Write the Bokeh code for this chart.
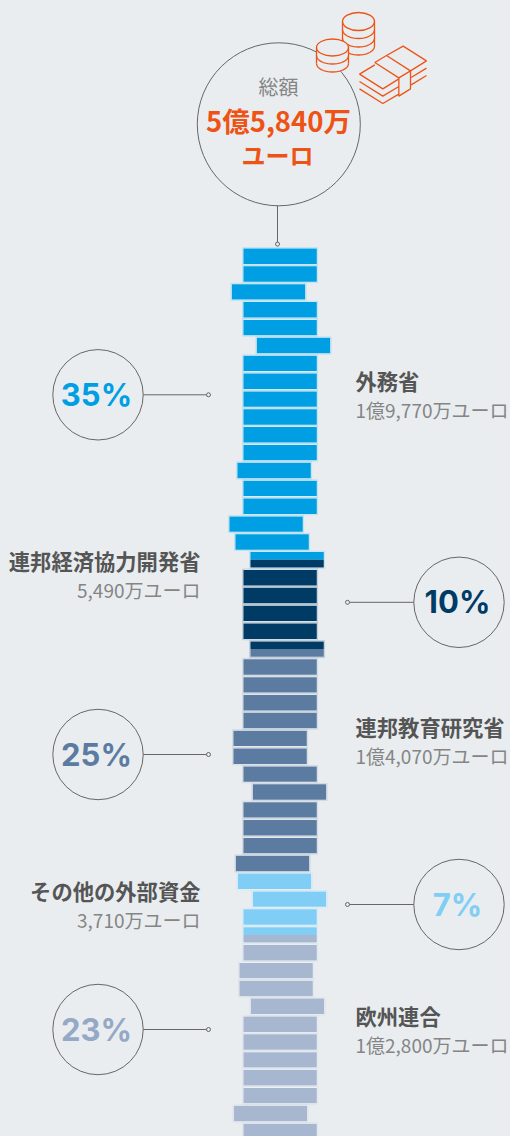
import numpy as np
from bokeh.embed import file_html
from bokeh.resources import INLINE
from bokeh.plotting import figure
from bokeh.models import Range1d, GlobalInlineStyleSheet
from bokeh.core.properties import value

# ---- data ----
total_label = "総額"
total_lines = ["5億5,840万", "ユーロ"]
names = ["外務省", "連邦経済協力開発省", "連邦教育研究省", "その他の外部資金", "欧州連合"]
amounts = ["1億9,770万ユーロ", "5,490万ユーロ", "1億4,070万ユーロ", "3,710万ユーロ", "1億2,800万ユーロ"]
shares = [35, 10, 25, 7, 23]
colors = ["#009fe3", "#003b66", "#5b7ba0", "#80cef5", "#a8b7d0"]
pct_colors = ["#009fe3", "#003b66", "#5b7ba0", "#80cef5", "#95a8c6"]
# horizontal shift of each of the 50 stacked notes (2 % each)
row_shift = [0, 0, -11.6, 0, 0, 13.4, 0, 0, 0, 0, 0, 0, -6, 0, 0, -14, -8, 7, 0, 0,
             0, 0, 7, 0, 0, 0, 0, -10, -10, 0, 9.4, 0, 0, 0, -7.6, -5.6, 9.4, 0, 0, 0,
             -4, -4, 7.4, 0, 0, 0, 0, 0, -9.6, 0]
BG = "#e9edf0"
ORANGE = "#ee5316"
LINE = "#666666"
FONT = "Noto Sans CJK JP"

# ---- layout ----
W, H = 510, 1136
p = figure(width=W, height=H, output_backend="svg", toolbar_location=None,
           x_range=Range1d(0, W), y_range=Range1d(H, 0), min_border=0,
           background_fill_color=BG, border_fill_color=BG, outline_line_color=None)
p.axis.visible = False
p.grid.visible = False
p.stylesheets = [GlobalInlineStyleSheet(css="html,body{margin:0!important;padding:0;background:%s;overflow:hidden}" % BG)]

# ---- stacked notes ----
X0, NOTE_W, Y0, PITCH, NOTE_H = 242.9, 73.4, 248.0, 17.86, 15.4
bounds = np.cumsum([0] + shares) / 2.0
for i, s in enumerate(row_shift):
    left, top = X0 + s, Y0 + i * PITCH
    first = True
    for k in range(len(shares)):
        a, b = max(i, bounds[k]), min(i + 1, bounds[k + 1])
        if b <= a:
            continue
        if first:
            p.quad(left=left - 0.8, right=left + NOTE_W + 0.8, top=top - 0.8, bottom=top + NOTE_H + 0.8,
                   fill_color="#ffffff", fill_alpha=0.6, line_color=colors[k], line_alpha=0.2, line_width=1)
            first = False
        p.quad(left=left, right=left + NOTE_W, top=top + (a - i) * NOTE_H, bottom=top + (b - i) * NOTE_H,
               fill_color=colors[k], line_color=None)

# ---- circles, leader lines ----
def circle(cx, cy, r, fill=None):
    p.ellipse(x=cx, y=cy, width=2 * r, height=2 * r, fill_color=fill, fill_alpha=0 if fill is None else 1,
              line_color=LINE, line_width=1)

circle(278.3, 123.8, 81.5)
p.line([277, 277], [205, 243], line_color=LINE, line_width=1)
p.scatter([277], [243.6], size=4, marker="circle", fill_color=BG, line_color=LINE, line_width=1)

cy_list = [394.3, 601.8, 754, 904, 1029]
for k in range(5):
    left_side = k % 2 == 0
    cx = 97.5 if left_side else 458.5
    dot = 208 if left_side else 347
    circle(cx, cy_list[k], 45.2)
    p.line([cx + (45.2 if left_side else -45.2), dot], [cy_list[k], cy_list[k]], line_color=LINE, line_width=1)
    p.scatter([dot], [cy_list[k]], size=4, marker="circle", fill_color=BG, line_color=LINE, line_width=1)
    p.text([cx - 1.5], [cy_list[k] - 0.5], text=[f"{shares[k]}%"], text_font=value("Inter"), text_font_style="bold",
           text_font_size="31px", text_color=pct_colors[k], text_align="center", text_baseline="middle")

label_y = [379.5, 559.5, 725.5, 889.5, 1014.5]
for k in range(5):
    left_side = k % 2 == 1
    x = 200 if left_side else 355
    align = "right" if left_side else "left"
    p.text([x], [label_y[k]], text=[names[k]], text_font=value(FONT), text_font_style="bold",
           text_font_size="21.3px", text_color="#555555", text_align=align, text_baseline="middle")
    p.text([x], [label_y[k] + 29], text=[amounts[k]], text_font=value(FONT),
           text_font_size="19px", text_color="#858585", text_align=align, text_baseline="middle")

p.text([278], [85.5], text=[total_label], text_font=value(FONT), text_font_size="20px", text_color="#858585",
       text_align="center", text_baseline="middle")
p.text([278], [119], text=[total_lines[0]], text_font=value(FONT), text_font_style="bold",
       text_font_size="27.5px", text_color=ORANGE, text_align="center", text_baseline="middle")
p.text([277], [153.5], text=[total_lines[1]], text_font=value(FONT), text_font_style="bold",
       text_font_size="24px", text_color=ORANGE, text_align="center", text_baseline="middle")

# ---- icon (decoration) ----
def stack(cx, cy, rx, ry, h, levels):
    t = np.linspace(0, np.pi, 40)
    xs = cx + rx * np.cos(t)
    ys = cy + ry * np.sin(t)
    p.patch(list(xs) + [cx - rx, cx + rx], list(ys + h) + [cy, cy], fill_color=BG, line_color=None)
    p.ellipse(x=cx, y=cy, width=2 * rx, height=2 * ry, fill_color=BG, line_color=ORANGE, line_width=1.3)
    for lv in levels:
        p.line(xs, ys + lv, line_color=ORANGE, line_width=1.3)
    p.line([cx - rx, cx - rx], [cy, cy + h], line_color=ORANGE, line_width=1.3)
    p.line([cx + rx, cx + rx], [cy, cy + h], line_color=ORANGE, line_width=1.3)

stack(358, 21, 16, 9, 24.5, [8, 16.5, 24.5])
stack(332, 47, 16, 8.5, 16, [8, 16])
Z = lambda pts: ([310 + a / 3 for a, _ in pts], [5 + b / 3 for _, b in pts])
paths = [
    [(228, 150), (278, 122), (348, 166), (300, 196), (228, 150), (193, 171), (265, 217), (300, 196)],
    [(193, 178), (147, 206), (217, 250), (265, 220)],
    [(147, 228), (217, 272), (265, 243)],
    [(147, 250), (217, 294), (265, 266)],
    [(265, 217), (265, 272), (300, 250), (300, 196)],
    [(348, 188), (302, 216)],
    [(348, 210), (302, 238)],
]
for pts in paths:
    xs, ys = Z(pts)
    p.line(xs, ys, line_color=ORANGE, line_width=1.3)

open("out.html", "w").write(file_html(p, INLINE))
